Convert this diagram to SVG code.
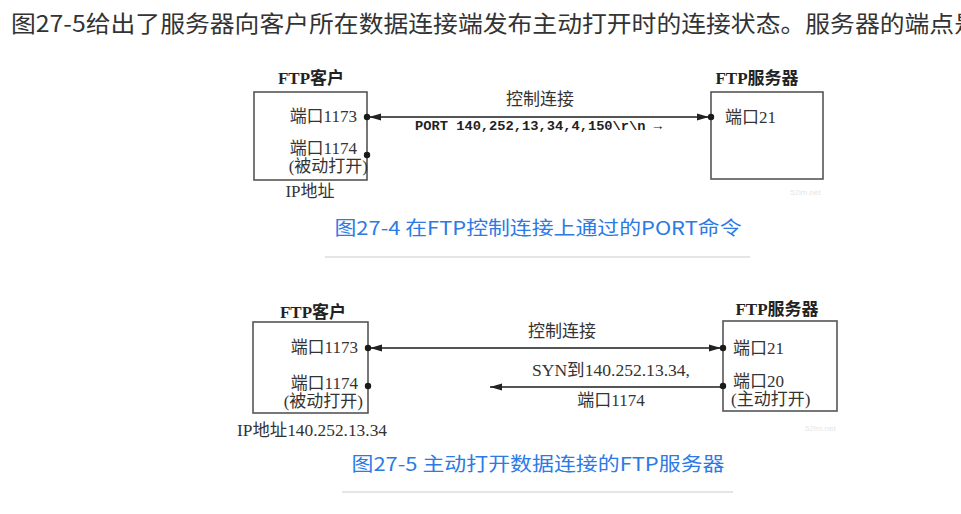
<svg xmlns="http://www.w3.org/2000/svg" width="961" height="514" viewBox="0 0 961 514">
<style>
.top{font-family:"Noto Sans CJK SC","Noto Sans",sans-serif;font-size:23px;fill:#333}
.cap{font-family:"Noto Sans CJK SC","Noto Sans",sans-serif;font-size:19px;fill:#2b7ae6}
.t{font-family:"Liberation Serif","Noto Sans CJK SC",serif;font-size:17px;fill:#333}
.tb{font-family:"Liberation Serif","Noto Sans CJK SC",serif;font-size:17px;fill:#222;font-weight:bold}
.mono{font-family:"Liberation Mono","DejaVu Sans Mono",monospace;font-size:13px;fill:#222;font-weight:bold}
.box{fill:none;stroke:#555;stroke-width:1.6}
.ln{stroke:#555;stroke-width:1.8;fill:none}
.dot{fill:#1a1a1a}
.sep{stroke:#dcdcdc;stroke-width:1.5}
.wm{font-family:"Liberation Sans",sans-serif;font-size:8px;fill:#e6e6e6}
</style>
<defs>
<marker id="ah" markerUnits="userSpaceOnUse" markerWidth="16" markerHeight="10" refX="14" refY="4" orient="auto-start-reverse">
<path d="M0,0.5 L12,4 L0,7.5 z" fill="#222"/>
</marker>
<marker id="ah0" markerUnits="userSpaceOnUse" markerWidth="16" markerHeight="10" refX="12" refY="4" orient="auto-start-reverse">
<path d="M0,0.5 L12,4 L0,7.5 z" fill="#222"/>
</marker>
</defs>
<rect width="961" height="514" fill="#fff"/>
<text class="top" x="11" y="32" textLength="968" lengthAdjust="spacingAndGlyphs">图27-5给出了服务器向客户所在数据连接端发布主动打开时的连接状态。服务器的端点是</text>

<!-- Figure 27-4 -->
<g id="connectors1">
<line class="ln" x1="367" y1="117" x2="711" y2="117" marker-start="url(#ah)" marker-end="url(#ah)"/>
</g>
<g id="client1">
<rect class="box" x="254" y="92" width="113" height="88"/>
<text class="tb" x="311" y="84" text-anchor="middle">FTP客户</text>
<text class="t" x="357" y="122" text-anchor="end">端口1173</text>
<text class="t" x="357" y="154" text-anchor="end">端口1174</text>
<text class="t" x="368" y="172" text-anchor="end">(被动打开)</text>
<circle class="dot" cx="367" cy="117" r="3.2"/>
<circle class="dot" cx="367" cy="155" r="3.2"/>
<text class="t" x="310" y="197" text-anchor="middle">IP地址</text>
</g>
<g id="label1">
<text class="t" x="540" y="105" text-anchor="middle">控制连接</text>
<text class="mono" x="415" y="130" textLength="247" lengthAdjust="spacingAndGlyphs">PORT 140,252,13,34,4,150\r\n →</text>
</g>
<g id="server1">
<rect class="box" x="711" y="92" width="112" height="87"/>
<text class="tb" x="757" y="84" text-anchor="middle">FTP服务器</text>
<text class="t" x="725" y="123">端口21</text>
<circle class="dot" cx="711" cy="117" r="3.2"/>
<text class="wm" x="790" y="195">52im.net</text>
</g>
<text class="cap" x="538" y="235" text-anchor="middle" textLength="407" lengthAdjust="spacingAndGlyphs">图27-4 在FTP控制连接上通过的PORT命令</text>
<line class="sep" x1="325" y1="257" x2="750" y2="257"/>

<!-- Figure 27-5 -->
<g id="connectors2">
<line class="ln" x1="368" y1="348" x2="723" y2="348" marker-start="url(#ah)" marker-end="url(#ah)"/>
<line class="ln" x1="723" y1="387" x2="490" y2="387" marker-end="url(#ah0)"/>
</g>
<g id="client2">
<rect class="box" x="253" y="322" width="115" height="91"/>
<text class="tb" x="313" y="318" text-anchor="middle">FTP客户</text>
<text class="t" x="358" y="353" text-anchor="end">端口1173</text>
<text class="t" x="358" y="389" text-anchor="end">端口1174</text>
<text class="t" x="363" y="407" text-anchor="end">(被动打开)</text>
<circle class="dot" cx="368" cy="348" r="3.2"/>
<circle class="dot" cx="368" cy="386" r="3.2"/>
<text class="t" x="312" y="436" text-anchor="middle" textLength="150" lengthAdjust="spacingAndGlyphs">IP地址140.252.13.34</text>
</g>
<g id="label2">
<text class="t" x="562" y="337" text-anchor="middle">控制连接</text>
<text class="t" x="611" y="376" text-anchor="middle" textLength="158" lengthAdjust="spacingAndGlyphs">SYN到140.252.13.34,</text>
<text class="t" x="611" y="406" text-anchor="middle">端口1174</text>
</g>
<g id="server2">
<rect class="box" x="723" y="321" width="114" height="90"/>
<text class="tb" x="777" y="315" text-anchor="middle">FTP服务器</text>
<text class="t" x="733" y="354">端口21</text>
<text class="t" x="733" y="387">端口20</text>
<text class="t" x="731" y="405">(主动打开)</text>
<circle class="dot" cx="723" cy="348" r="3.2"/>
<circle class="dot" cx="723" cy="386" r="3.2"/>
<text class="wm" x="805" y="431">52im.net</text>
</g>
<text class="cap" x="538" y="471" text-anchor="middle" textLength="373" lengthAdjust="spacingAndGlyphs">图27-5 主动打开数据连接的FTP服务器</text>
<line class="sep" x1="342" y1="492" x2="733" y2="492"/>
</svg>
